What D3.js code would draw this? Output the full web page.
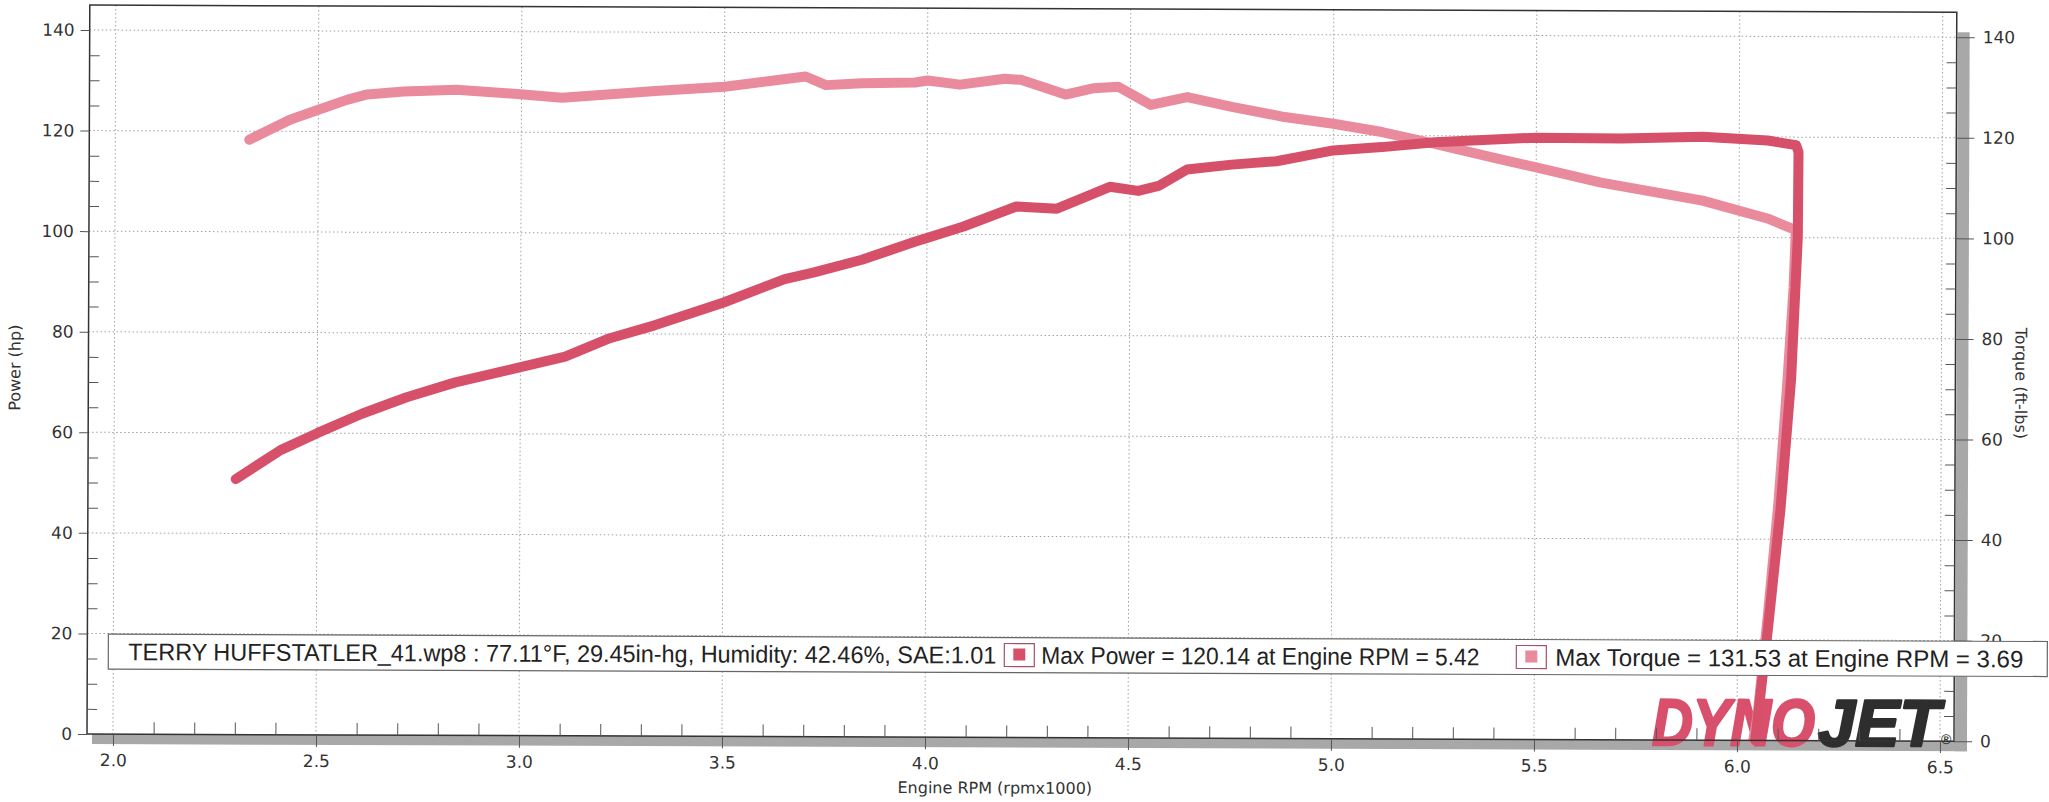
<!DOCTYPE html>
<html>
<head>
<meta charset="utf-8">
<script src="https://cdn.jsdelivr.net/npm/d3@7"></script>
<style>
  body { margin: 0; background: #fff; }
  svg { display: block; }
</style>
</head>
<body>
<script>
// dyno run
var powerRpm = [2.30, 2.41, 2.50, 2.61, 2.72, 2.84, 2.99, 3.11, 3.22, 3.33, 3.50, 3.65, 3.72, 3.84, 3.97, 4.00, 4.09, 4.22, 4.32, 4.45, 4.52, 4.57, 4.64, 4.75, 4.86, 5.00, 5.12, 5.25, 5.50, 5.71, 5.91, 6.07, 6.14, 6.146, 6.145, 6.13, 6.105, 6.075, 6.045];
var powerHp = [50.8, 56.6, 60.0, 63.9, 67.2, 70.2, 73.1, 75.4, 79.1, 81.7, 86.3, 91.0, 92.3, 94.9, 98.5, 99.3, 101.6, 105.6, 105.2, 109.6, 108.8, 109.8, 113.1, 114.1, 114.8, 117.0, 117.7, 118.7, 119.7, 119.6, 120.0, 119.3, 118.4, 117.0, 100.0, 72.0, 46.0, 22.0, 0];

var torqueRpm = [2.33, 2.43, 2.50, 2.57, 2.62, 2.71, 2.84, 2.99, 3.10, 3.22, 3.33, 3.50, 3.66, 3.70, 3.75, 3.84, 3.97, 4.00, 4.08, 4.19, 4.23, 4.34, 4.41, 4.47, 4.55, 4.64, 4.75, 4.88, 5.00, 5.12, 5.25, 5.41, 5.50, 5.66, 5.91, 6.07, 6.14, 6.135, 6.12, 6.10, 6.075, 6.05, 6.04];
var torqueFt = [118.3, 122.3, 124.3, 126.3, 127.4, 128.0, 128.4, 127.6, 126.9, 127.6, 128.3, 129.2, 130.9, 131.3, 129.6, 130.0, 130.2, 130.6, 129.8, 131.0, 130.8, 127.9, 129.2, 129.5, 125.9, 127.5, 125.6, 123.6, 122.3, 120.7, 118.4, 115.4, 113.8, 110.8, 107.3, 103.8, 101.5, 90.0, 70.5, 47.5, 25.0, 4.7, 0];

var rpmTicks = [2.0, 2.5, 3.0, 3.5, 4.0, 4.5, 5.0, 5.5, 6.0, 6.5];
var powerTicks = [0, 20, 40, 60, 80, 100, 120, 140];
var torqueTicks = [0, 20, 40, 60, 80, 100, 120, 140];

var legendInfo = "TERRY HUFFSTATLER_41.wp8 : 77.11\u00B0F, 29.45in-hg, Humidity: 42.46%, SAE:1.01";
var legendPower = "Max Power = 120.14 at Engine RPM = 5.42";
var legendTorque = "Max Torque = 131.53 at Engine RPM = 3.69";

var W = 2049, H = 802;
// plot box (window.top is reserved, hence the names)
var pLeft = 87, pRight = 1954, pTop = 5, pBottom = 734;
var powerCol = "#d6506a", torqueCol = "#ea8a9d";
var tickFont = "'DejaVu Sans', sans-serif";

var svg = d3.select("body").append("svg")
    .attr("width", W)
    .attr("height", H);

// the sheet was scanned a little crooked
var g = svg.append("g").attr("transform", "rotate(0.22," + pLeft + "," + pBottom + ")");

var x = d3.scaleLinear().domain([2.0, 6.5]).range([113, 1940]);
var yP = d3.scaleLinear().domain([0, 140]).range([pBottom, 30]);
var yT = d3.scaleLinear().domain([0, 140]).range([pBottom, 30]);

// grey drop shadow under and right of the plot
g.append("rect").attr("x", pLeft + 5).attr("y", pBottom)
  .attr("width", pRight - pLeft + 8).attr("height", 10).attr("fill", "#a8a8a8");
g.append("rect").attr("x", pRight + 1).attr("y", pTop + 20)
  .attr("width", 12).attr("height", pBottom - pTop - 10).attr("fill", "#a8a8a8");

// dotted grid
g.selectAll(".hgrid").data(powerTicks.slice(1)).enter().append("line")
  .attr("x1", pLeft).attr("x2", pRight)
  .attr("y1", function(d) { return yP(d); }).attr("y2", function(d) { return yP(d); })
  .attr("stroke", "#a0a0a0").attr("stroke-width", 1).attr("stroke-dasharray", "1.5,2.5");
g.selectAll(".vgrid").data(rpmTicks).enter().append("line")
  .attr("x1", function(d) { return x(d); }).attr("x2", function(d) { return x(d); })
  .attr("y1", pTop).attr("y2", pBottom)
  .attr("stroke", "#a0a0a0").attr("stroke-width", 1).attr("stroke-dasharray", "1.5,2.5");

// DYNOJET logo in the corner, heavy italic block letters
var logo = g.append("g").attr("font-family", "'Liberation Sans', Arial, sans-serif")
  .attr("font-weight", "bold").attr("font-style", "italic").attr("font-size", 66)
  .attr("stroke-width", 2.5).attr("stroke-linejoin", "round");
logo.append("text").attr("x", 1652).attr("y", 739).text("DYNO")
  .attr("fill", "#d9506c").attr("stroke", "#d9506c")
  .attr("textLength", 163).attr("lengthAdjust", "spacingAndGlyphs");
logo.append("text").attr("x", 1818).attr("y", 739).text("JET")
  .attr("fill", "#2e2e2e").attr("stroke", "#2e2e2e")
  .attr("textLength", 122).attr("lengthAdjust", "spacingAndGlyphs");
logo.append("text").attr("x", 1941).attr("y", 737).text("\u00AE")
  .attr("font-size", 14).attr("font-style", "normal").attr("stroke", "none").attr("fill", "#333");

// curves
var powerData = powerRpm.map(function(r, i) { return [r, powerHp[i]]; });
var torqueData = torqueRpm.map(function(r, i) { return [r, torqueFt[i]]; });

var powerLine = d3.line().x(function(d) { return x(d[0]); }).y(function(d) { return yP(d[1]); });
var torqueLine = d3.line().x(function(d) { return x(d[0]); }).y(function(d) { return yT(d[1]); });

g.append("path").datum(torqueData).attr("d", torqueLine)
  .attr("fill", "none").attr("stroke", torqueCol).attr("stroke-width", 10)
  .attr("stroke-linecap", "round").attr("stroke-linejoin", "round");
g.append("path").datum(powerData).attr("d", powerLine)
  .attr("fill", "none").attr("stroke", powerCol).attr("stroke-width", 10)
  .attr("stroke-linecap", "round").attr("stroke-linejoin", "round");

// frame
g.append("rect").attr("x", pLeft).attr("y", pTop)
  .attr("width", pRight - pLeft).attr("height", pBottom - pTop)
  .attr("fill", "none").attr("stroke", "#333").attr("stroke-width", 1.5);

function styleAxis(sel) {
  sel.select(".domain").remove();
  sel.selectAll("line").attr("stroke", "#555");
  sel.selectAll("text").attr("font-family", tickFont).attr("font-size", 17).attr("fill", "#333");
}

var minorY = d3.range(5, 140, 5).filter(function(v) { return v % 20; });
var minorX = d3.range(21, 65).filter(function(v) { return v % 5; }).map(function(v) { return v / 10; });

// left axis
g.append("g").attr("transform", "translate(" + pLeft + ",0)")
  .call(d3.axisLeft(yP).tickValues(powerTicks).tickSize(9).tickPadding(6))
  .call(styleAxis);
g.append("g").attr("transform", "translate(" + pLeft + ",0)")
  .call(d3.axisRight(yP).tickValues(minorY).tickSize(10).tickFormat(""))
  .call(styleAxis);

// right axis
g.append("g").attr("transform", "translate(" + pRight + ",0)")
  .call(d3.axisRight(yT).tickValues(torqueTicks).tickSize(18).tickPadding(8))
  .call(styleAxis);
g.append("g").attr("transform", "translate(" + pRight + ",0)")
  .call(d3.axisLeft(yT).tickValues(minorY).tickSize(10).tickFormat(""))
  .call(styleAxis);

// bottom axis
g.append("g").attr("transform", "translate(0," + pBottom + ")")
  .call(d3.axisBottom(x).tickValues(rpmTicks).tickSize(12).tickPadding(8).tickFormat(d3.format(".1f")))
  .call(styleAxis);
g.append("g").attr("transform", "translate(0," + pBottom + ")")
  .call(d3.axisTop(x).tickValues(minorX).tickSize(12).tickFormat(""))
  .call(styleAxis);

// axis titles
g.append("text").attr("transform", "translate(19,368) rotate(-90)")
  .attr("text-anchor", "middle").attr("font-family", tickFont).attr("font-size", 16).attr("fill", "#333")
  .text("Power (hp)");
g.append("text").attr("transform", "translate(2014,376) rotate(90)")
  .attr("text-anchor", "middle").attr("font-family", tickFont).attr("font-size", 16).attr("fill", "#333")
  .text("Torque (ft-lbs)");
g.append("text").attr("x", 995).attr("y", 790)
  .attr("text-anchor", "middle").attr("font-family", tickFont).attr("font-size", 16).attr("fill", "#333")
  .text("Engine RPM (rpmx1000)");

// legend strip
var leg = g.append("g").attr("font-family", "'Liberation Sans', Arial, sans-serif").attr("font-size", 24).attr("fill", "#222");
leg.append("rect").attr("x", 108).attr("y", 634).attr("width", 1939).attr("height", 35)
  .attr("fill", "#fff").attr("stroke", "#666").attr("stroke-width", 1.2);
leg.append("text").attr("x", 128).attr("y", 660).text(legendInfo)
  .attr("textLength", 868).attr("lengthAdjust", "spacingAndGlyphs");

[[1004, powerCol, legendPower, 1041, 438], [1516, torqueCol, legendTorque, 1555, 468]].forEach(function(it) {
  leg.append("rect").attr("x", it[0]).attr("y", 640).attr("width", 30).attr("height", 23)
    .attr("fill", "#fff").attr("stroke", "#a8506a").attr("stroke-width", 1.2);
  leg.append("rect").attr("x", it[0] + 9).attr("y", 645).attr("width", 12).attr("height", 12)
    .attr("fill", it[1]);
  leg.append("text").attr("x", it[3]).attr("y", 660).text(it[2])
    .attr("textLength", it[4]).attr("lengthAdjust", "spacingAndGlyphs");
});
</script>
</body>
</html>
